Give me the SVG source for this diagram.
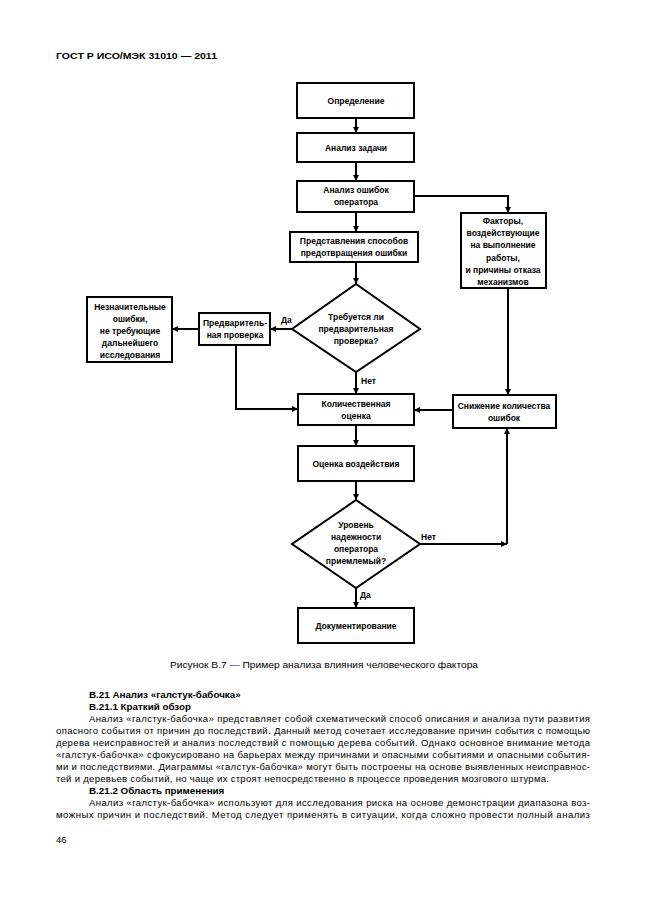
<svg xmlns="http://www.w3.org/2000/svg" width="646" height="913" viewBox="0 0 646 913">
<defs>
<marker id="ah" viewBox="0 0 6 6" refX="6" refY="3" markerWidth="6" markerHeight="6" markerUnits="userSpaceOnUse" orient="auto">
<path d="M0,0 L6,3 L0,6 z" fill="#000"/>
</marker>
<style>
.box{fill:#fff;stroke:#000;stroke-width:2}
.ln{fill:none;stroke:#000;stroke-width:2;marker-end:url(#ah)}
.t{font-family:"Liberation Sans",Arial,sans-serif;font-size:8.5px;font-weight:bold;text-anchor:middle;fill:#000}
.lb{font-family:"Liberation Sans",Arial,sans-serif;font-size:8.5px;font-weight:bold;fill:#000}
.body{font-family:"Liberation Sans",Arial,sans-serif;font-size:9.55px;fill:#000}
.bh{font-family:"Liberation Sans",Arial,sans-serif;font-size:9.8px;font-weight:bold;fill:#000}
</style>
</defs>
<rect width="646" height="913" fill="#fff"/>
<text x="56" y="59" class="bh" font-size="10.5" textLength="161" lengthAdjust="spacingAndGlyphs">ГОСТ Р ИСО/МЭК 31010 — 2011</text>

<g id="connectors">
<path class="ln" d="M356,118 V133"/>
<path class="ln" d="M356,162 V181"/>
<path class="ln" d="M356,212 V232"/>
<path class="ln" d="M414,196 H508 V213"/>
<path class="ln" d="M356,262 V284"/>
<path class="ln" d="M292,329 H270"/>
<path class="ln" d="M199,329 H172"/>
<path class="ln" d="M236,345 V409 H298"/>
<path class="ln" d="M356,372 V394"/>
<path class="ln" d="M508,288 V395"/>
<path class="ln" d="M453,410 H414"/>
<path class="ln" d="M356,425 V446"/>
<path class="ln" d="M356,481 V500"/>
<path class="ln" d="M420,544 H507"/>
<path class="ln" d="M507,544 V428"/>
<path class="ln" d="M356,588 V608"/>
<text x="281" y="323" class="lb">Да</text>
<text x="361" y="384" class="lb">Нет</text>
<text x="421" y="540" class="lb">Нет</text>
<text x="360" y="598" class="lb">Да</text>
</g>

<g id="n1"><rect class="box" x="297" y="83" width="117" height="35"/><text class="t" x="356" y="104">Определение</text></g>
<g id="n2"><rect class="box" x="297" y="133" width="117" height="29"/><text class="t" x="356" y="151">Анализ задачи</text></g>
<g id="n3"><rect class="box" x="297" y="181" width="117" height="31"/><text class="t" x="356" y="193">Анализ ошибок</text><text class="t" x="356" y="205">оператора</text></g>
<g id="n4"><rect class="box" x="290" y="232" width="128" height="30"/><text class="t" x="354" y="244">Представления способов</text><text class="t" x="354" y="256">предотвращения ошибки</text></g>
<g id="n5"><rect class="box" x="461" y="213" width="85" height="75"/>
<text class="t" x="503" y="224">Факторы,</text><text class="t" x="503" y="236">воздействующие</text><text class="t" x="503" y="248">на выполнение</text><text class="t" x="503" y="261">работы,</text><text class="t" x="503" y="273">и причины отказа</text><text class="t" x="503" y="285">механизмов</text></g>
<g id="d1"><path class="box" d="M356,284 L420,329 L356,372 L292,329 z"/>
<text class="t" x="356" y="320">Требуется ли</text><text class="t" x="356" y="332">предварительная</text><text class="t" x="356" y="344">проверка?</text></g>
<g id="n6"><rect class="box" x="199" y="313" width="71" height="32"/><text class="t" x="235" y="326">Предваритель-</text><text class="t" x="235" y="338">ная проверка</text></g>
<g id="n7"><rect class="box" x="87" y="297" width="85" height="65"/>
<text class="t" x="130" y="310">Незначительные</text><text class="t" x="130" y="322">ошибки,</text><text class="t" x="130" y="334">не требующие</text><text class="t" x="130" y="346">дальнейшего</text><text class="t" x="130" y="358">исследования</text></g>
<g id="n8"><rect class="box" x="298" y="394" width="116" height="31"/><text class="t" x="356" y="407">Количественная</text><text class="t" x="356" y="419">оценка</text></g>
<g id="n9"><rect class="box" x="453" y="395" width="103" height="33"/><text class="t" x="504" y="409">Снижение количества</text><text class="t" x="504" y="421">ошибок</text></g>
<g id="n10"><rect class="box" x="298" y="446" width="116" height="35"/><text class="t" x="356" y="467">Оценка воздействия</text></g>
<g id="d2"><path class="box" d="M356,500 L420,544 L356,588 L292,544 z"/>
<text class="t" x="356" y="528">Уровень</text><text class="t" x="356" y="540">надежности</text><text class="t" x="356" y="552">оператора</text><text class="t" x="356" y="564">приемлемый?</text></g>
<g id="n11"><rect class="box" x="298" y="608" width="116" height="35"/><text class="t" x="356" y="629">Документирование</text></g>

<text x="324" y="668" class="body" text-anchor="middle" textLength="308" lengthAdjust="spacingAndGlyphs">Рисунок В.7 — Пример анализа влияния человеческого фактора</text>

<text x="89" y="698" class="bh">В.21 Анализ «галстук-бабочка»</text>
<text x="89" y="710" class="bh">В.21.1 Краткий обзор</text>
<text x="89" y="722" class="body" textLength="501" lengthAdjust="spacing">Анализ «галстук-бабочка» представляет собой схематический способ описания и анализа пути развития</text>
<text x="56" y="734" class="body" textLength="534" lengthAdjust="spacing">опасного события от причин до последствий. Данный метод сочетает исследование причин события с помощью</text>
<text x="56" y="746" class="body" textLength="534" lengthAdjust="spacing">дерева неисправностей и анализ последствий с помощью дерева событий. Однако основное внимание метода</text>
<text x="56" y="758" class="body" textLength="534" lengthAdjust="spacing">«галстук-бабочка» сфокусировано на барьерах между причинами и опасными событиями и опасными события-</text>
<text x="56" y="770" class="body" textLength="534" lengthAdjust="spacing">ми и последствиями. Диаграммы «галстук-бабочка» могут быть построены на основе выявленных неисправнос-</text>
<text x="56" y="782" class="body" textLength="493" lengthAdjust="spacing">тей и деревьев событий, но чаще их строят непосредственно в процессе проведения  мозгового штурма.</text>
<text x="89" y="794" class="bh">В.21.2 Область применения</text>
<text x="89" y="806" class="body" textLength="501" lengthAdjust="spacing">Анализ «галстук-бабочка» используют для исследования риска на основе демонстрации диапазона воз-</text>
<text x="56" y="818" class="body" textLength="534" lengthAdjust="spacing">можных причин и последствий. Метод следует применять в ситуации, когда сложно провести полный анализ</text>
<text x="56" y="843" class="body">46</text>
</svg>
